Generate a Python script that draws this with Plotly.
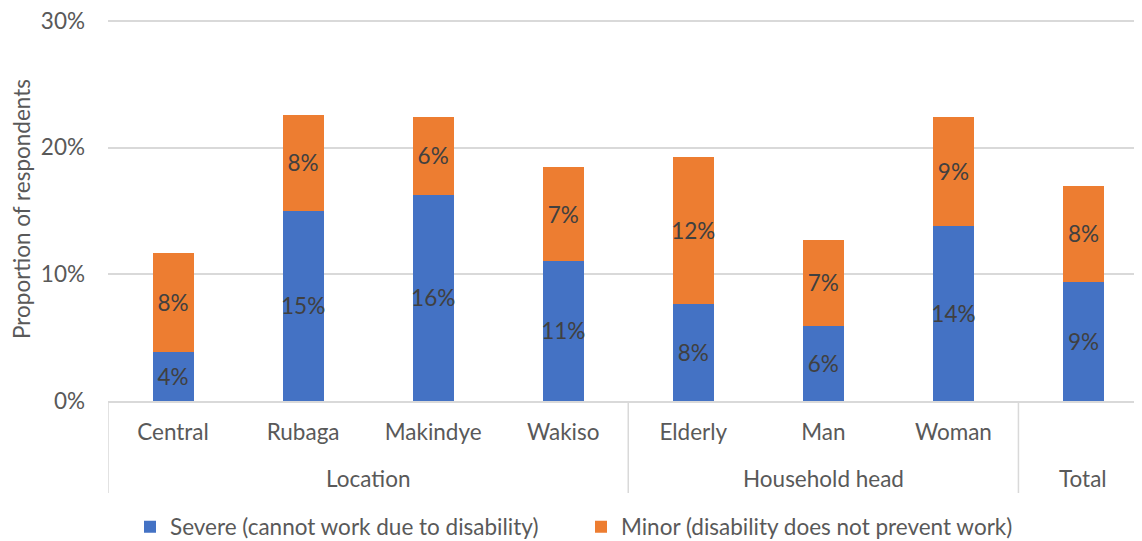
import plotly.graph_objects as go

categories = ["Central", "Rubaga", "Makindye", "Wakiso", "Elderly", "Man", "Woman", "Total"]
tick_labels = ["Central", "Rubaga", "Makindye", "Wakiso", "Elderly", "Man", "Woman", ""]
groups = ["Location", "Household head", "Total"]
group_centers = [1.5, 5.0, 7.0]
group_dividers = [-0.5, 3.5, 6.5]
severe = [0.0387, 0.150, 0.1626, 0.1105, 0.0766, 0.0592, 0.138, 0.0939]
minor = [0.078, 0.076, 0.0616, 0.074, 0.116, 0.068, 0.086, 0.076]
y_ticks = [0, 0.1, 0.2, 0.3]

FONT = "Lato, 'Open Sans', sans-serif"
GRAY = "#595959"
LABEL = "#404040"
FS = 22.5

# page has an 8px body margin; layout is set so the plot lands where the reference has it
W, H = 1142, 541
T, B = 9, 148
P = H - T - B  # plot height in px

fig = go.Figure()
fig.add_trace(go.Bar(
    x=categories, y=severe, name="Severe (cannot work due to disability)",
    marker=dict(color="#4472C4", line=dict(width=0)),
    texttemplate="%{y:.0%}", textposition="inside", insidetextanchor="middle",
    constraintext="none",
    textangle=0, textfont=dict(color=LABEL, size=FS, family=FONT), width=0.315,
))
fig.add_trace(go.Bar(
    x=categories, y=minor, name="Minor (disability does not prevent work)",
    marker=dict(color="#ED7D31", line=dict(width=0)),
    texttemplate="%{y:.0%}", textposition="inside", insidetextanchor="middle",
    constraintext="none",
    textangle=0, textfont=dict(color=LABEL, size=FS, family=FONT), width=0.315,
))

div_bottom = -92 / P
for xd in group_dividers:
    fig.add_shape(type="line", xref="x", yref="paper", x0=xd, x1=xd, y0=0, y1=div_bottom,
                  line=dict(color="#D9D9D9", width=1.5), layer="below")
for g, xc in zip(groups, group_centers):
    fig.add_annotation(x=xc, y=-77 / P, xref="x", yref="paper", text=g,
                       showarrow=False, font=dict(family=FONT, size=FS, color=GRAY),
                       yanchor="middle", xanchor="center")

fig.update_layout(
    width=W, height=H,
    margin=dict(l=100, r=8, t=T, b=B),
    barmode="stack",
    plot_bgcolor="white", paper_bgcolor="white",
    font=dict(family=FONT, size=FS, color=GRAY),
    showlegend=True,
    legend=dict(orientation="h", xref="container", x=573 / W, xanchor="center",
                yref="container", y=22 / H, yanchor="middle",
                font=dict(family=FONT, size=FS, color=GRAY), itemwidth=30,
                entrywidth=406, entrywidthmode="pixels",
                traceorder="normal"),
    xaxis=dict(type="category", tickmode="array", tickvals=categories, ticktext=tick_labels,
               range=[-0.5, 7.45], showline=True, linecolor="#D9D9D9", linewidth=1.5,
               ticks="", showgrid=False, automargin=False, ticklabelstandoff=10,
               tickfont=dict(family=FONT, size=FS, color=GRAY)),
    yaxis=dict(range=[0, 0.303], tickvals=y_ticks, tickformat=".0%", showgrid=True,
               gridcolor="#D9D9D9", gridwidth=1.5, zeroline=False, ticks="",
               ticklabelstandoff=22, automargin=False, ticklabeloverflow="allow",
               title=dict(text="Proportion of respondents", standoff=8,
                          font=dict(family=FONT, size=FS, color=GRAY)),
               tickfont=dict(family=FONT, size=FS, color=GRAY)),
)

fig.write_html("out.html")
